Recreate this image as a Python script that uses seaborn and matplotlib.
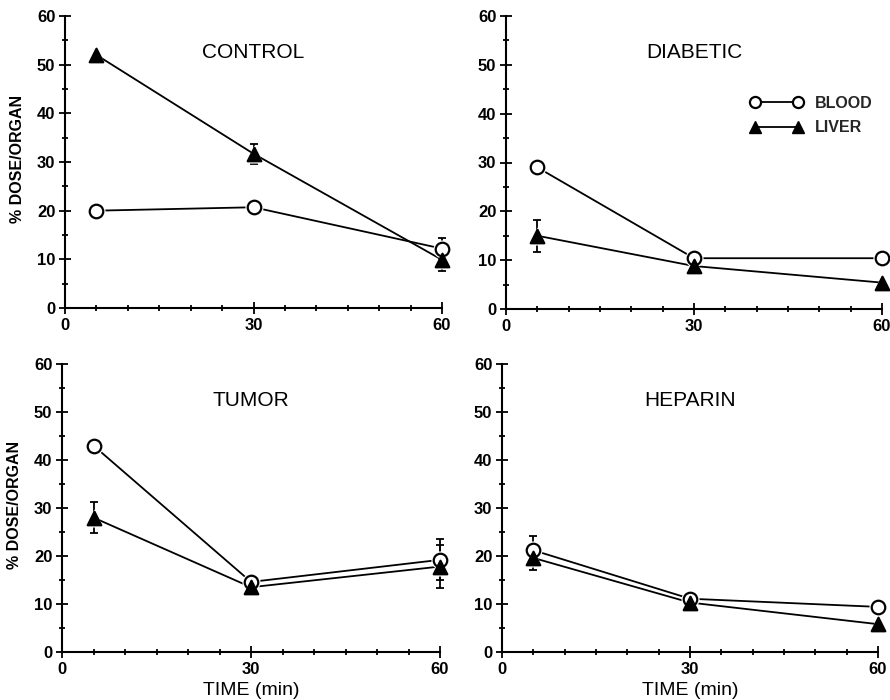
import numpy as np
import pandas as pd
import matplotlib
matplotlib.use("Agg")
import matplotlib.pyplot as plt
import seaborn as sns
from matplotlib.ticker import MultipleLocator, FixedLocator
from matplotlib.lines import Line2D

sns.set_style("ticks")
plt.rcParams['font.family'] = ['Liberation Sans', 'DejaVu Sans']

# ---------------- data ----------------
times = [5, 30, 60]
panels = ["CONTROL", "DIABETIC", "TUMOR", "HEPARIN"]

control_blood = [20.0, 20.7, 12.2]
control_liver = [52.0, 31.7, 9.9]
control_blood_err = [0.0, 0.0, 2.2]
control_liver_err = [0.0, 2.1, 2.2]

diabetic_blood = [29.0, 10.4, 10.4]
diabetic_liver = [15.0, 8.8, 5.4]
diabetic_blood_err = [0.0, 0.0, 0.0]
diabetic_liver_err = [3.3, 0.0, 0.0]

tumor_blood = [43.0, 14.6, 19.2]
tumor_liver = [28.0, 13.5, 17.8]
tumor_blood_err = [0.0, 0.0, 4.3]
tumor_liver_err = [3.3, 0.0, 4.5]

heparin_blood = [21.2, 11.1, 9.4]
heparin_liver = [19.6, 10.3, 5.8]
heparin_blood_err = [3.0, 0.0, 0.0]
heparin_liver_err = [2.5, 0.0, 0.0]

organs = ["BLOOD", "LIVER"]
y_label = "% DOSE/ORGAN"
x_label = "TIME (min)"

values = {
    "CONTROL": (control_blood, control_liver, control_blood_err, control_liver_err),
    "DIABETIC": (diabetic_blood, diabetic_liver, diabetic_blood_err, diabetic_liver_err),
    "TUMOR": (tumor_blood, tumor_liver, tumor_blood_err, tumor_liver_err),
    "HEPARIN": (heparin_blood, heparin_liver, heparin_blood_err, heparin_liver_err),
}

rows = []
for p in panels:
    b, l, be, le = values[p]
    for t, v, e in zip(times, b, be):
        rows.append(dict(panel=p, time=t, value=v, err=e, organ="BLOOD"))
    for t, v, e in zip(times, l, le):
        rows.append(dict(panel=p, time=t, value=v, err=e, organ="LIVER"))
df = pd.DataFrame(rows)

# ---------------- layout ----------------
W, H = 890, 700
fig = plt.figure(figsize=(W / 100, H / 100), dpi=100)
boxes = {
    "CONTROL": (65, 16, 442, 308),
    "DIABETIC": (506, 16, 882, 309),
    "TUMOR": (62, 364, 440, 652),
    "HEPARIN": (502, 364, 878, 652),
}

markers = {"BLOOD": "o", "LIVER": "^"}
faces = {"BLOOD": "white", "LIVER": "black"}

for p in panels:
    x0, y0, x1, y1 = boxes[p]
    ax = fig.add_axes([x0 / W, 1 - y1 / H, (x1 - x0) / W, (y1 - y0) / H])
    sub = df[df.panel == p]

    sns.lineplot(data=sub, x="time", y="value", hue="organ", palette=["black", "black"],
                 linewidth=1.3, legend=False, ax=ax, zorder=2, estimator=None)
    # error bars
    for org in organs:
        s = sub[(sub.organ == org) & (sub.err > 0)]
        if len(s):
            ax.errorbar(s.time, s.value, yerr=s.err, fmt="none", ecolor="black",
                        elinewidth=1.3, capsize=3, capthick=1.3, zorder=3, clip_on=False)
    # white halo then markers
    for org in organs:
        s = sub[sub.organ == org]
        sns.scatterplot(x=s.time, y=s.value, marker=markers[org], s=170, color="white",
                        edgecolor="white", linewidth=0, ax=ax, zorder=3.5, clip_on=False, legend=False)
        sns.scatterplot(x=s.time, y=s.value, marker=markers[org], s=95, color=faces[org],
                        edgecolor="black", linewidth=1.6, ax=ax, zorder=4, clip_on=False, legend=False)

    ax.set_xlim(0, 60)
    ax.set_ylim(0, 60)
    ax.xaxis.set_major_locator(FixedLocator([0, 30, 60]))
    ax.xaxis.set_minor_locator(MultipleLocator(5))
    ax.yaxis.set_major_locator(MultipleLocator(10))
    ax.yaxis.set_minor_locator(MultipleLocator(5))
    ax.tick_params(axis="both", which="major", direction="inout", length=8, width=1.3,
                   labelsize=12, color="black", labelcolor="black", pad=3)
    ax.tick_params(axis="both", which="minor", direction="inout", length=5, width=1.3, color="black")
    for lab in ax.get_xticklabels() + ax.get_yticklabels():
        lab.set_fontweight("bold")
    sns.despine(ax=ax)
    for sp in ["left", "bottom"]:
        ax.spines[sp].set_linewidth(1.5)
        ax.spines[sp].set_color("black")
    ax.set_facecolor("white")

    ax.text(30, 52.5, p, ha="center", va="center", fontsize=15, color="black")

    if p in ("CONTROL", "TUMOR"):
        ax.set_ylabel(y_label, fontsize=11.5, fontweight="bold", color="black")
        ax.yaxis.set_label_coords(-0.105, 0.51)
    else:
        ax.set_ylabel("")
    if p in ("TUMOR", "HEPARIN"):
        ax.set_xlabel(x_label, fontsize=14, color="black", labelpad=4)
    else:
        ax.set_xlabel("")

    if p == "DIABETIC":
        handles = [
            Line2D([], [], color="black", lw=1.3, marker="o", markersize=8,
                   markerfacecolor="white", markeredgecolor="black", markeredgewidth=1.6),
            Line2D([], [], color="black", lw=1.3, marker="^", markersize=8.5,
                   markerfacecolor="black", markeredgecolor="black"),
        ]
        ax.legend(handles, organs, numpoints=2, frameon=False, loc="center left",
                  bbox_to_anchor=(0.649, 0.66), handlelength=3.3, handletextpad=0.75,
                  labelspacing=0.6, borderpad=0, borderaxespad=0,
                  prop={"size": 11.5, "weight": "bold"})

fig.savefig("out.png", dpi=100, facecolor="white")
